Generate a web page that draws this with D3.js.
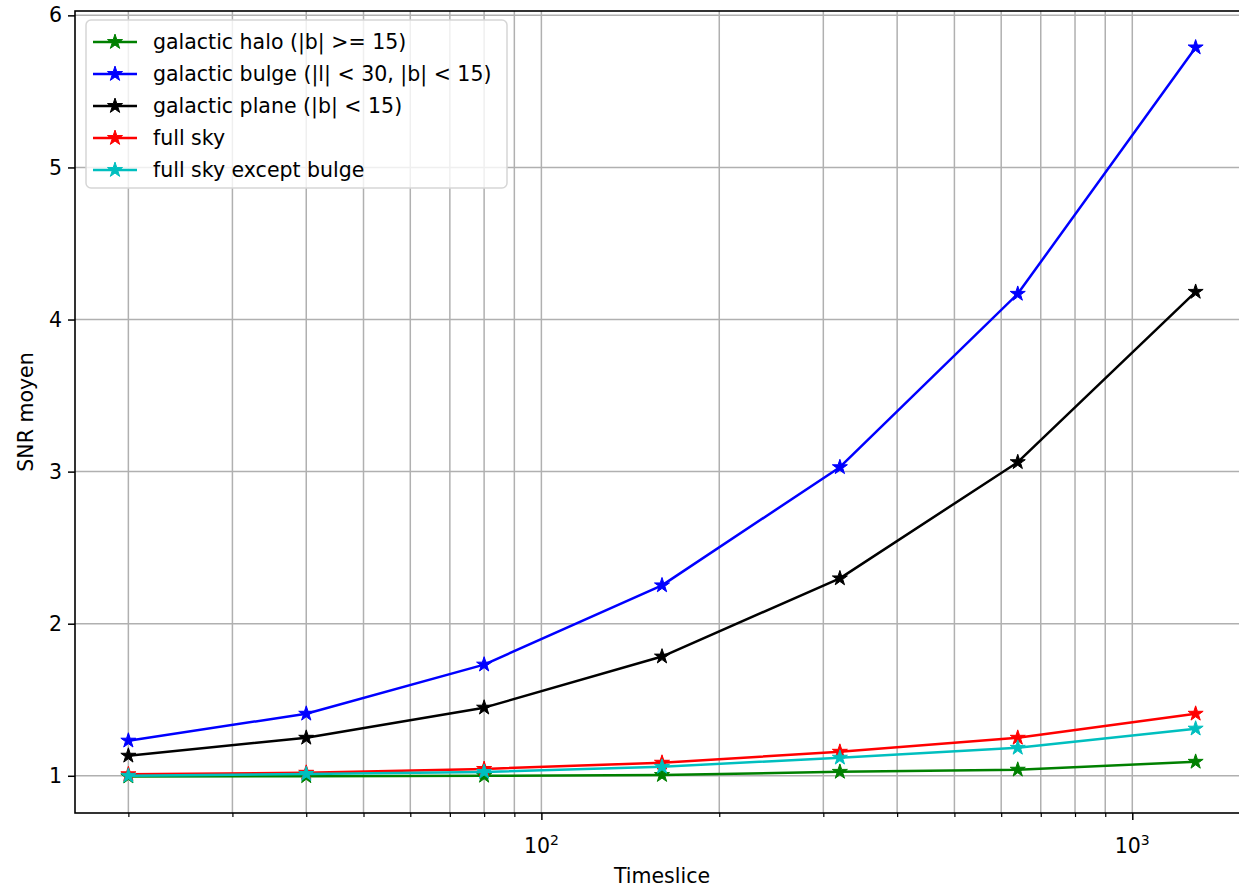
<!DOCTYPE html>
<html>
<head>
<meta charset="utf-8">
<script src="https://cdn.jsdelivr.net/npm/d3@7"></script>
<style>
  body { margin: 0; background: #fff; }
  svg { display: block; font-family: "DejaVu Sans", sans-serif; }
</style>
</head>
<body>
<script>
const width = 1239
const height = 888
const margin = ({top: 11, right: -10, bottom: 75, left: 75})
const fontSize = 20.5

// timeslice values (x)
const timeslices = [20, 40, 80, 160, 320, 640, 1280]

// mean SNR per region
const halo = [0.995, 0.997, 1.0, 1.005, 1.026, 1.04, 1.092]
const bulge = [1.231, 1.408, 1.731, 2.252, 3.029, 4.169, 5.789]
const plane = [1.132, 1.250, 1.448, 1.784, 2.298, 3.062, 4.182]
const fullSky = [1.01, 1.02, 1.045, 1.086, 1.158, 1.250, 1.408]
const fullSkyNoBulge = [1.0, 1.012, 1.025, 1.059, 1.119, 1.184, 1.310]

const seriesNames = [
    "galactic halo (|b| >= 15)",
    "galactic bulge (|l| < 30, |b| < 15)",
    "galactic plane (|b| < 15)",
    "full sky",
    "full sky except bulge"
]
const seriesColors = ["#008000", "#0000ff", "#000000", "#ff0000", "#00bfbf"]
const seriesValues = [halo, bulge, plane, fullSky, fullSkyNoBulge]

const yTicks = [1, 2, 3, 4, 5, 6]
const xMajor = [100, 1000]
const xMajorLabels = ["2", "3"]

const series = seriesNames.map((name, i) => ({
    name,
    color: seriesColors[i],
    values: timeslices.map((t, j) => ({t, v: seriesValues[i][j]}))
}))

// matplotlib-like 5% margins in log space
const lx0 = Math.log10(d3.min(timeslices)), lx1 = Math.log10(d3.max(timeslices))
const padX = (lx1 - lx0) * 0.05
const allV = seriesValues.flat()
const vy0 = d3.min(allV), vy1 = d3.max(allV)
const padY = (vy1 - vy0) * 0.05

const x = d3.scaleLog()
    .domain([Math.pow(10, lx0 - padX), Math.pow(10, lx1 + padX)])
    .range([margin.left, width - margin.right])

const y = d3.scaleLinear()
    .domain([vy0 - padY, vy1 + padY])
    .range([height - margin.bottom, margin.top])

const svg = d3.select("body").append("svg")
    .attr("width", width)
    .attr("height", height)
    .attr("viewBox", [0, 0, width, height])

const xMinor = []
for (let d = 10; d <= 1000; d *= 10)
    for (let k = 2; k <= 9; k++) {
        const v = d * k
        if (v >= x.domain()[0] && v <= x.domain()[1]) xMinor.push(v)
    }

const plotTop = margin.top, plotBottom = height - margin.bottom

// grid
const grid = svg.append("g")
    .attr("stroke", "#b0b0b0")
    .attr("stroke-width", 1.5)
grid.selectAll(".gx")
    .data(xMinor.concat(xMajor))
    .join("line")
        .attr("x1", d => x(d))
        .attr("x2", d => x(d))
        .attr("y1", plotTop)
        .attr("y2", plotBottom)
grid.selectAll(".gy")
    .data(yTicks)
    .join("line")
        .attr("x1", margin.left)
        .attr("x2", width - margin.right)
        .attr("y1", d => y(d))
        .attr("y2", d => y(d))

// lines + markers
const line = d3.line()
    .x(d => x(d.t))
    .y(d => y(d.v))

const star = d3.symbol().type(d3.symbolStar).size(70)

series.forEach(s => {
    svg.append("path")
        .datum(s.values)
        .attr("fill", "none")
        .attr("stroke", s.color)
        .attr("stroke-width", 2.5)
        .attr("stroke-linejoin", "round")
        .attr("d", line)
    svg.append("g")
        .selectAll("path")
        .data(s.values)
        .join("path")
            .attr("transform", d => `translate(${x(d.t)},${y(d.v)})`)
            .attr("d", star)
            .attr("fill", s.color)
            .attr("stroke", s.color)
            .attr("stroke-width", 1)
})

// axes
const xAxis = g => g
    .attr("transform", `translate(0,${plotBottom})`)
    .call(d3.axisBottom(x).tickValues(xMajor).tickSize(7).tickFormat(""))
    .call(g => g.select(".domain").remove())
    .call(g => g.selectAll("line").attr("stroke-width", 1.5))
const xAxisMinor = g => g
    .attr("transform", `translate(0,${plotBottom})`)
    .call(d3.axisBottom(x).tickValues(xMinor).tickSize(4).tickFormat(""))
    .call(g => g.select(".domain").remove())
    .call(g => g.selectAll("line").attr("stroke-width", 1.2))
const yAxis = g => g
    .attr("transform", `translate(${margin.left},0)`)
    .call(d3.axisLeft(y).tickValues(yTicks).tickSize(7).tickPadding(6).tickFormat(d3.format("d")))
    .call(g => g.select(".domain").remove())
    .call(g => g.selectAll("line").attr("stroke-width", 1.5))
    .call(g => g.selectAll("text")
        .style("font-size", fontSize + "px")
        .style("font-family", "DejaVu Sans")
        .attr("fill", "#000"))

svg.append("g").call(xAxis)
svg.append("g").call(xAxisMinor)
svg.append("g").call(yAxis)

// x major labels 10^n
const xl = svg.append("g")
    .style("font-size", fontSize + "px")
    .attr("text-anchor", "middle")
xMajor.forEach((v, i) => {
    const t = xl.append("text")
        .attr("x", x(v))
        .attr("y", plotBottom + 40)
    t.append("tspan").text("10")
    t.append("tspan").attr("dy", -8).style("font-size", "14px").text(xMajorLabels[i])
})

// frame
svg.append("rect")
    .attr("x", margin.left)
    .attr("y", plotTop)
    .attr("width", x.range()[1] - margin.left)
    .attr("height", plotBottom - plotTop)
    .attr("fill", "none")
    .attr("stroke", "#000")
    .attr("stroke-width", 1.6)

// labels
svg.append("text")
    .attr("x", (margin.left + x.range()[1]) / 2)
    .attr("y", 883)
    .attr("text-anchor", "middle")
    .style("font-size", fontSize + "px")
    .text("Timeslice")
svg.append("text")
    .attr("transform", `translate(33,${(plotTop + plotBottom) / 2}) rotate(-90)`)
    .attr("text-anchor", "middle")
    .style("font-size", fontSize + "px")
    .text("SNR moyen")

// legend
const lg = svg.append("g").attr("transform", "translate(86,20)")
lg.append("rect")
    .attr("width", 421)
    .attr("height", 168)
    .attr("rx", 5)
    .attr("fill", "#fff")
    .attr("fill-opacity", 0.8)
    .attr("stroke", "#d6d6d6")
    .attr("stroke-width", 1.5)
const items = lg.selectAll(".item")
    .data(series)
    .join("g")
        .attr("transform", (d, i) => `translate(0,${22 + i * 32})`)
items.append("line")
    .attr("x1", 7).attr("x2", 51)
    .attr("stroke", d => d.color)
    .attr("stroke-width", 2.5)
items.append("path")
    .attr("transform", "translate(29,0)")
    .attr("d", star)
    .attr("fill", d => d.color)
    .attr("stroke", d => d.color)
items.append("text")
    .attr("x", 67)
    .attr("dy", "0.35em")
    .style("font-size", fontSize + "px")
    .attr("fill", "#000")
    .text(d => d.name)
</script>
</body>
</html>
